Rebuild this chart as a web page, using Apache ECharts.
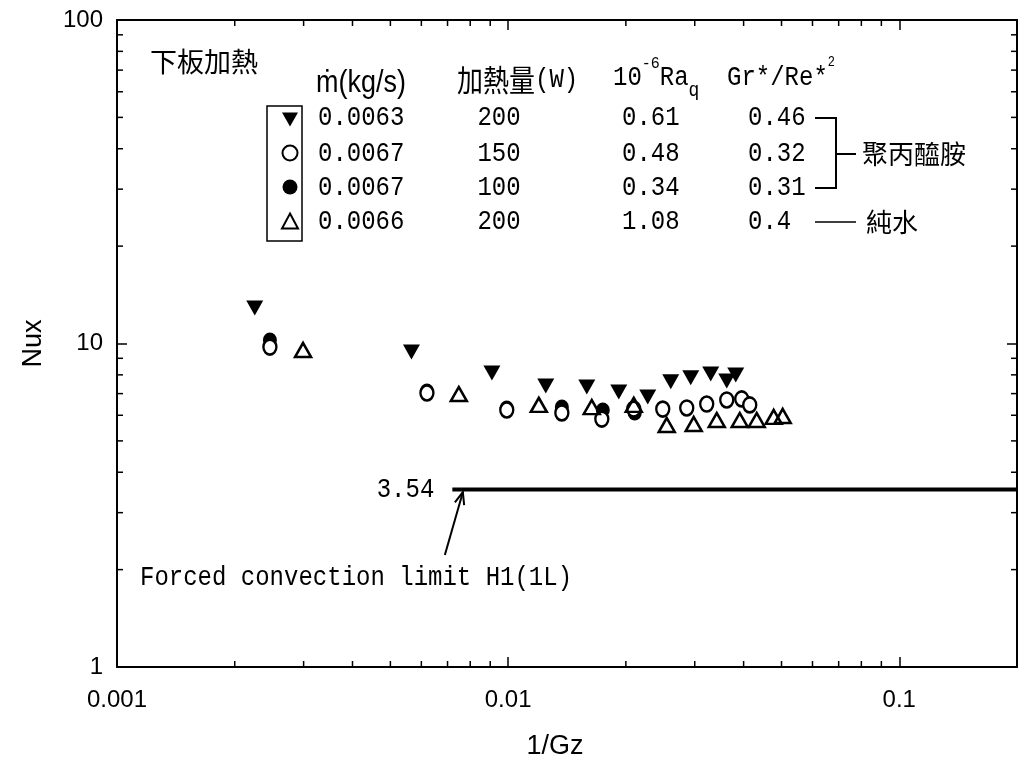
<!DOCTYPE html>
<html>
<head>
<meta charset="utf-8">
<script src="https://cdn.jsdelivr.net/npm/echarts@6/dist/echarts.min.js"></script>
<style>
html, body { margin: 0; padding: 0; background: #fff; }
#chart { width: 1019px; height: 767px; }
</style>
</head>
<body>
<div id="chart"></div>
<script>
// Axis tick labels (log decades)
const xTickLabels = ['0.001', '0.01', '0.1'];
const yTickLabels = ['1', '10', '100'];

// Local Nusselt number vs inverse Graetz number, bottom plate heated
// [1/Gz, Nux]
const pam200 = [[0.00225, 12.88], [0.00566, 9.41], [0.00909, 8.11], [0.01248, 7.39], [0.01589, 7.34], [0.01918, 7.08],
  [0.02275, 6.83], [0.02605, 7.61], [0.0293, 7.83], [0.03296, 8.05], [0.03622, 7.66], [0.03819, 7.99]];
const pam150 = [[0.00246, 9.75], [0.0062, 7.03], [0.00992, 6.23], [0.01372, 6.10], [0.01736, 5.84], [0.02095, 6.27],
  [0.02485, 6.27], [0.02862, 6.32], [0.03219, 6.50], [0.03622, 6.69], [0.03956, 6.74], [0.04147, 6.46]];
const pam100 = [[0.00246, 10.25], [0.0062, 7.13], [0.00992, 6.32], [0.01372, 6.36], [0.01746, 6.23], [0.02107, 6.10]];
const water200 = [[0.00299, 9.55], [0.00748, 6.98], [0.01198, 6.46], [0.01636, 6.36], [0.02095, 6.46], [0.02544, 5.60],
  [0.02982, 5.64], [0.03415, 5.80], [0.0391, 5.80], [0.04321, 5.80], [0.04775, 5.93], [0.05035, 5.97]];

// Table of run conditions
const massFlow = ['0.0063', '0.0067', '0.0067', '0.0066'];
const heatInput = ['200', '150', '100', '200'];
const raq = ['0.61', '0.48', '0.34', '1.08'];
const grRe = ['0.46', '0.32', '0.31', '0.4'];
const seriesNames = ['PAM 200W', 'PAM 150W', 'PAM 100W', 'Water 200W'];

// Forced convection limit H1(1L)
const limitNu = 3.54;
const limitRange = [0.0072, 0.2];
const arrowFrom = [0.00689, 2.22];
const arrowTo = [0.00766, 3.47];

// minor ticks at 2..9 of each decade
const minorTicks = [];
[0.001, 0.01].forEach(d => { for (let m = 2; m <= 9; m++) minorTicks.push([m * d, 1, 0]); });
[1, 10].forEach(d => { for (let m = 2; m <= 9; m++) minorTicks.push([0.001, m * d, 1]); });

const MONO = '"Liberation Mono", "DejaVu Sans Mono", monospace';
const SANS = '"Liberation Sans", Arial, sans-serif';
const CJK = '"Noto Sans CJK TC", "Noto Sans CJK SC", sans-serif';

const chart = echarts.init(document.getElementById('chart'), null, { renderer: 'canvas' });

function decadeIndex(v, offset) {
  const e = Math.log10(v);
  const r = Math.round(e);
  return Math.abs(e - r) < 1e-6 ? r + offset : -1;
}

const axisCommon = {
  type: 'log',
  logBase: 10,
  axisLine: { show: true, lineStyle: { color: '#000', width: 2 } },
  axisTick: { show: true, inside: true, length: 10, lineStyle: { color: '#000', width: 1.5 } },
  splitLine: { show: false },
  minorTick: { show: false },
  minorSplitLine: { show: false }
};

const option = {
  backgroundColor: '#fff',
  animation: false,
  grid: { left: 117, right: 2, top: 20, bottom: 100, containLabel: false, outerBoundsMode: 'none' },
  xAxis: [
    Object.assign({}, axisCommon, {
      position: 'bottom', min: 0.001, max: 0.2,
      name: '1/Gz', nameLocation: 'middle', nameGap: 66,
      nameTextStyle: { color: '#000', fontFamily: SANS, fontSize: 27, padding: [0, 24, 0, 0] },
      axisLabel: {
        color: '#000', fontFamily: SANS, fontSize: 24, margin: 21,
        formatter: v => { const i = decadeIndex(v, 3); return i >= 0 && i < xTickLabels.length ? xTickLabels[i] : ''; }
      }
    }),
    Object.assign({}, axisCommon, {
      position: 'top', min: 0.001, max: 0.2, axisLabel: { show: false }
    })
  ],
  yAxis: [
    Object.assign({}, axisCommon, {
      position: 'left', min: 1, max: 100,
      name: 'Nux', nameLocation: 'middle', nameGap: 70,
      nameTextStyle: { color: '#000', fontFamily: SANS, fontSize: 27 },
      axisLabel: {
        color: '#000', fontFamily: SANS, fontSize: 24, margin: 14,
        formatter: v => { const i = decadeIndex(v, 0); return i >= 0 && i < yTickLabels.length ? yTickLabels[i] : ''; }
      }
    }),
    Object.assign({}, axisCommon, {
      position: 'right', min: 1, max: 100, axisLabel: { show: false }
    })
  ],
  legend: {
    orient: 'vertical', left: 276, top: 107,
    itemWidth: 16, itemHeight: 15, itemGap: 18,
    selectedMode: false,
    formatter: () => '',
    textStyle: { fontSize: 10 },
    data: [
      { name: seriesNames[0], icon: 'path://M0,0L16,0L8,14Z' },
      seriesNames[1], seriesNames[2], seriesNames[3]
    ]
  },
  series: [
    {
      name: seriesNames[0], type: 'scatter', data: pam200, z: 5,
      symbol: 'triangle', symbolRotate: 180, symbolSize: [17, 15],
      itemStyle: { color: '#000', opacity: 1 }
    },
    {
      name: seriesNames[1], type: 'scatter', data: pam150, z: 4,
      symbol: 'circle', symbolSize: [13, 15],
      itemStyle: { color: '#fff', borderColor: '#000', borderWidth: 2.5, opacity: 1 }
    },
    {
      name: seriesNames[2], type: 'scatter', data: pam100, z: 3,
      symbol: 'circle', symbolSize: [14, 15],
      itemStyle: { color: '#000', opacity: 1 }
    },
    {
      name: seriesNames[3], type: 'scatter', data: water200, z: 6,
      symbol: 'triangle', symbolSize: [16, 14],
      itemStyle: { color: 'rgba(255,255,255,0)', borderColor: '#000', borderWidth: 2.5, opacity: 1 }
    },
    {
      name: 'limit', type: 'line', z: 2,
      data: [[limitRange[0], limitNu], [limitRange[1], limitNu]],
      symbol: 'none', lineStyle: { color: '#000', width: 4 }, silent: true
    },
    {
      name: 'arrow', type: 'custom', silent: true, z: 7,
      encode: { x: [0, 2], y: [1, 3] },
      data: [[arrowFrom[0], arrowFrom[1], arrowTo[0], arrowTo[1]]],
      clip: false,
      renderItem: (params, api) => {
        const a = api.coord([api.value(0), api.value(1)]);
        const b = api.coord([api.value(2), api.value(3)]);
        const ang = Math.atan2(b[1] - a[1], b[0] - a[0]);
        const L = 13, w = 0.38;
        const p1 = [b[0] - L * Math.cos(ang - w), b[1] - L * Math.sin(ang - w)];
        const p2 = [b[0] - L * Math.cos(ang + w), b[1] - L * Math.sin(ang + w)];
        const st = { stroke: '#000', lineWidth: 2, fill: null };
        return {
          type: 'group', children: [
            { type: 'line', shape: { x1: a[0], y1: a[1], x2: b[0], y2: b[1] }, style: st },
            { type: 'polyline', shape: { points: [p1, b, p2] }, style: st }
          ]
        };
      }
    },
    {
      name: 'minorTicks', type: 'custom', silent: true, z: 8, clip: false,
      encode: { x: 0, y: 1 },
      data: minorTicks,
      renderItem: (params, api) => {
        const cs = params.coordSys;
        const len = 6;
        const st = { stroke: '#000', lineWidth: 1.5 };
        if (api.value(2) === 0) {
          const px = api.coord([api.value(0), 1])[0];
          const yb = cs.y + cs.height, yt = cs.y;
          return {
            type: 'group', children: [
              { type: 'line', shape: { x1: px, y1: yb, x2: px, y2: yb - len }, style: st },
              { type: 'line', shape: { x1: px, y1: yt, x2: px, y2: yt + len }, style: st }
            ]
          };
        }
        const py = api.coord([0.001, api.value(1)])[1];
        const xl = cs.x, xr = cs.x + cs.width;
        return {
          type: 'group', children: [
            { type: 'line', shape: { x1: xl, y1: py, x2: xl + len, y2: py }, style: st },
            { type: 'line', shape: { x1: xr, y1: py, x2: xr - len, y2: py }, style: st }
          ]
        };
      }
    }
  ]
};

chart.setOption(option);

// Annotations and the run-condition table
function txt(x, y, text, style, extra) {
  return Object.assign({
    type: 'text', x: x, y: y, scaleY: 1.15, silent: true, z: 100,
    style: Object.assign({
      text: text, fill: '#000', font: '24px ' + MONO,
      align: 'left', verticalAlign: 'middle', textAlign: 'left', textVerticalAlign: 'middle'
    }, style || {})
  }, extra || {});
}
function seg(points, w) {
  return { type: 'polyline', silent: true, z: 100, shape: { points: points }, style: { stroke: '#000', lineWidth: w || 2, fill: null } };
}

const rowY = [118, 154, 188, 222];
const g = [];
g.push(txt(150, 62, '下板加熱', { font: '27px ' + CJK }, { scaleY: 1 }));
g.push(txt(316, 83, 'ṁ(kg/s)', { font: '27px ' + SANS }));
g.push(txt(457, 80, '{c|加熱量}{l|(W)}', {
  rich: {
    c: { fontFamily: CJK, fontSize: 26 },
    l: { fontFamily: MONO, fontSize: 24 }
  }
}));
g.push(txt(613, 78, '{n|10}{sup|-6}{n|Ra}{sub|q}', {
  rich: {
    n: { fontFamily: MONO, fontSize: 24, lineHeight: 40 },
    sup: { fontFamily: MONO, fontSize: 15, lineHeight: 14, verticalAlign: 'top' },
    sub: { fontFamily: MONO, fontSize: 18, lineHeight: 30, verticalAlign: 'bottom' }
  }
}));
g.push(txt(727, 78, '{n|Gr*/Re*}{sup|2}', {
  rich: {
    n: { fontFamily: MONO, fontSize: 24, lineHeight: 40 },
    sup: { fontFamily: MONO, fontSize: 12, lineHeight: 12, verticalAlign: 'top' }
  }
}));
for (let i = 0; i < rowY.length; i++) {
  g.push(txt(318, rowY[i], massFlow[i]));
  g.push(txt(499, rowY[i], heatInput[i], { align: 'center', textAlign: 'center' }));
  g.push(txt(622, rowY[i], raq[i]));
  g.push(txt(748, rowY[i], grRe[i]));
}
// legend frame
g.push({ type: 'rect', silent: true, z: 100, shape: { x: 267, y: 106, width: 35, height: 135 },
  style: { fill: null, stroke: '#000', lineWidth: 1.5 } });
// bracket for the polyacrylamide runs
g.push(seg([[815, rowY[0]], [836, rowY[0]], [836, rowY[2]], [815, rowY[2]]]));
g.push(seg([[836, rowY[1]], [856, rowY[1]]]));
g.push(txt(862, rowY[1], '聚丙醯胺', { font: '26px ' + CJK }, { scaleY: 1 }));
g.push(seg([[815, rowY[3]], [856, rowY[3]]], 1.5));
g.push(txt(866, rowY[3], '純水', { font: '26px ' + CJK }, { scaleY: 1 }));

// limit line label and note
const lp = chart.convertToPixel({ xAxisIndex: 0, yAxisIndex: 0 }, [limitRange[0], limitNu]);
g.push(txt(lp[0] - 18, lp[1], limitNu.toFixed(2), { align: 'right', textAlign: 'right' }));
g.push(txt(140, 578, 'Forced convection limit H1(1L)'));

chart.setOption({ graphic: g });
</script>
</body>
</html>
